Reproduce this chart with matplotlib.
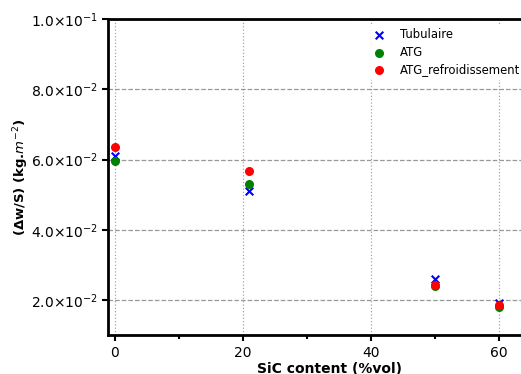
import matplotlib
matplotlib.use('Agg')
import matplotlib.pyplot as plt
from matplotlib.ticker import FuncFormatter, MultipleLocator

# SiC content (%vol)
sic = [0, 21, 50, 60]

# mass gain per surface (kg.m-2)
tubulaire = [0.0609, 0.0509, 0.0261, 0.0191]
atg = [0.0595, 0.0529, 0.0240, 0.0180]
atg_refroid = [0.0635, 0.0567, 0.0244, 0.0187]

y_ticks = [0.02, 0.04, 0.06, 0.08, 0.10]


def sci_fmt(v, pos):
    if v == 0:
        return "0"
    exp = int(f"{v:e}".split("e")[1])
    mant = v / 10 ** exp
    return "%.1f\u00d710$^{%d}$" % (mant, exp)


def main():
    fig = plt.figure(figsize=(5.21, 3.74), dpi=100)
    ax = fig.add_axes([0.207, 0.104, 0.85, 0.845])

    ax.scatter(sic, tubulaire, marker='x', color='blue', s=30, label='Tubulaire', zorder=3)
    ax.scatter(sic, atg, marker='o', color='green', s=30, label='ATG', zorder=3)
    ax.scatter(sic, atg_refroid, marker='o', color='red', s=30, label='ATG_refroidissement', zorder=3)

    ax.set_xlim(-1.1, 68.1)
    ax.set_ylim(0.01, 0.10)
    ax.set_yticks(y_ticks)
    ax.yaxis.set_major_formatter(FuncFormatter(sci_fmt))
    ax.xaxis.set_major_locator(MultipleLocator(20))
    ax.xaxis.set_minor_locator(MultipleLocator(10))

    ax.grid(axis='y', linestyle='--', color='gray', alpha=0.8, linewidth=0.9)
    ax.grid(axis='x', linestyle=':', color='gray', alpha=0.7, linewidth=0.9)

    for s in ax.spines.values():
        s.set_linewidth(2)
    ax.spines['right'].set_visible(False)
    ax.tick_params(axis='both', which='major', width=1.5, length=4, labelsize=10)
    ax.tick_params(axis='x', which='minor', width=1.5, length=3)

    ax.set_xlabel('SiC content (%vol)', fontweight='bold', fontsize=10, labelpad=2)
    ax.set_ylabel(r'($\mathbf{\Delta}$w/S) (kg.$m^{-2}$)', fontweight='bold', fontsize=9.5, labelpad=0)

    leg = ax.legend(loc='upper left', bbox_to_anchor=(0.594, 0.985), borderaxespad=0,
                    fontsize=8.4, handlelength=0.6, handletextpad=1.5, labelspacing=0.35,
                    framealpha=1, fancybox=False)
    leg.get_frame().set_edgecolor('none')

    plt.savefig('out.png', dpi=100)
    plt.close()


if __name__ == "__main__":
    main()
